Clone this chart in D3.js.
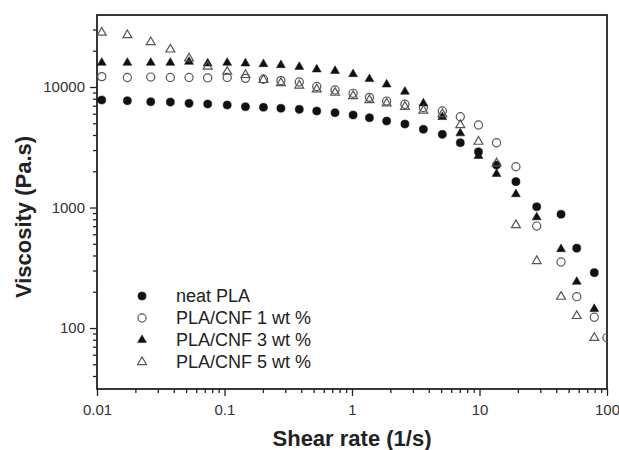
<!DOCTYPE html>
<html>
<head>
<meta charset="utf-8">
<script src="https://cdn.jsdelivr.net/npm/d3@7"></script>
<style>
  body { margin: 0; background: #fff; }
  text { font-family: "Liberation Sans", Arial, sans-serif; }
</style>
</head>
<body>
<div id="chart"></div>
<script>
/* viscosity vs shear rate, log-log */

// data
const shearRate = [0.0109, 0.0173, 0.0264, 0.0376, 0.0527, 0.0738, 0.105, 0.146, 0.202, 0.277,
  0.386, 0.529, 0.736, 1.02, 1.37, 1.87, 2.60, 3.63, 5.11, 7.07,
  9.82, 13.6, 19.3, 28.1, 43.6, 57.9, 79.5, 100];

const neatPLA = [7800, 7700, 7550, 7500, 7320, 7230, 7090, 6860, 6790, 6660,
  6530, 6320, 6120, 5860, 5560, 5220, 4930, 4460, 4050, 3450,
  2900, 2250, 1640, 1015, 880, 460, 288, null];
const cnf1 = [12200, 12000, 12100, 12000, 12000, 11900, 12000, 11800, 11600, 11300,
  11000, 10100, 9440, 8870, 8210, 7650, 7190, 6760, 6320, 5670,
  4840, 3450, 2180, 702, 353, 182, 123, 83];
const cnf3 = [15900, 15900, 15900, 15900, 16200, 15700, 15900, 15700, 15500, 15200,
  14700, 14000, 13600, 12800, 11650, 10500, 9140, 7320, 5640, 4130,
  2680, 1900, 1290, 830, 452, 242, 144, null];
const cnf5 = [28300, 27000, 23600, 20500, 17300, 14800, 13400, 12600, 11450, 10800,
  10300, 9570, 8970, 8420, 7800, 7320, 6860, 6380, 5970, 4840,
  3520, 2330, 716, 360, 182, 126, 83, null];

const seriesNames = ['neat PLA', 'PLA/CNF 1 wt %', 'PLA/CNF 3 wt %', 'PLA/CNF 5 wt %'];
const xTicks = [0.01, 0.1, 1, 10, 100];
const yTicks = [100, 1000, 10000];

const series = [
  { name: seriesNames[0], values: neatPLA, shape: d3.symbolCircle, filled: true },
  { name: seriesNames[1], values: cnf1, shape: d3.symbolCircle, filled: false },
  { name: seriesNames[2], values: cnf3, shape: d3.symbolTriangle, filled: true },
  { name: seriesNames[3], values: cnf5, shape: d3.symbolTriangle, filled: false }
];

const width = 619, height = 450;
const pLeft = 97, pRight = 607, pTop = 15, pBottom = 389;

const xScale = d3.scaleLog().domain([0.01, 100]).range([pLeft, pRight]);
const yScale = d3.scaleLog().domain([31.2, 39600]).range([pBottom, pTop]);

const svg = d3.select('#chart').append('svg')
  .attr('width', width)
  .attr('height', height);

svg.append('clipPath').attr('id', 'plot-clip')
  .append('rect')
  .attr('x', pLeft).attr('y', pTop)
  .attr('width', pRight - pLeft).attr('height', pBottom - pTop);

// minor tick values
const xMinor = [];
[0.01, 0.1, 1, 10].forEach(d => { for (let k = 2; k <= 9; k++) xMinor.push(d * k); });
const yMinor = [];
[10, 100, 1000, 10000].forEach(d => {
  for (let k = 2; k <= 9; k++) {
    const v = d * k;
    if (v > yScale.domain()[0] && v < yScale.domain()[1]) yMinor.push(v);
  }
});

function styleAxis(g) {
  g.select('.domain').remove();
  g.selectAll('line').attr('stroke', '#222').attr('stroke-width', 1.3);
  g.selectAll('text').attr('fill', '#333').style('font-size', '15px')
    .style('font-family', '"Liberation Sans", Arial, sans-serif');
}

// x axis
svg.append('g')
  .attr('transform', `translate(0,${pBottom})`)
  .call(d3.axisBottom(xScale).tickValues(xMinor).tickSize(4).tickFormat(''))
  .call(styleAxis);
svg.append('g')
  .attr('transform', `translate(0,${pBottom})`)
  .call(d3.axisBottom(xScale).tickValues(xTicks).tickSize(7).tickPadding(8)
    .tickFormat(d => d3.format('~g')(d)))
  .call(styleAxis);

// y axis
svg.append('g')
  .attr('transform', `translate(${pLeft},0)`)
  .call(d3.axisLeft(yScale).tickValues(yMinor).tickSize(4).tickFormat(''))
  .call(styleAxis);
svg.append('g')
  .attr('transform', `translate(${pLeft},0)`)
  .call(d3.axisLeft(yScale).tickValues(yTicks).tickSize(7).tickPadding(5)
    .tickFormat(d => d3.format('d')(d)))
  .call(styleAxis);

// frame
svg.append('rect')
  .attr('x', pLeft).attr('y', pTop)
  .attr('width', pRight - pLeft).attr('height', pBottom - pTop)
  .attr('fill', 'none')
  .attr('stroke', '#222')
  .attr('stroke-width', 1.8);

// markers
const symbolSize = s => s === d3.symbolCircle ? 52 : 34;
const plot = svg.append('g').attr('clip-path', 'url(#plot-clip)');

series.forEach(s => {
  const pts = shearRate.map((x, i) => ({ x: x, v: s.values[i] })).filter(d => d.v != null);
  plot.selectAll(null)
    .data(pts)
    .enter().append('path')
    .attr('d', d3.symbol().type(s.shape).size(symbolSize(s.shape)))
    .attr('transform', d => `translate(${xScale(d.x)},${yScale(d.v)})`)
    .attr('fill', s.filled ? '#111' : 'none')
    .attr('stroke', s.filled ? '#111' : '#555')
    .attr('stroke-width', s.filled ? 0.5 : 1.2);
});

// legend
const legend = svg.append('g').attr('transform', 'translate(142,296)');
series.forEach((s, i) => {
  const row = legend.append('g').attr('transform', `translate(0,${i * 22})`);
  row.append('path')
    .attr('d', d3.symbol().type(s.shape).size(symbolSize(s.shape)))
    .attr('fill', s.filled ? '#111' : 'none')
    .attr('stroke', s.filled ? '#111' : '#555')
    .attr('stroke-width', s.filled ? 0.5 : 1.2);
  row.append('text')
    .attr('x', 34)
    .attr('y', 6)
    .style('font-size', '18px')
    .attr('fill', '#222')
    .text(s.name);
});

// axis titles
svg.append('text')
  .attr('x', (pLeft + pRight) / 2)
  .attr('y', 446)
  .attr('text-anchor', 'middle')
  .style('font-size', '22px')
  .style('font-weight', 'bold')
  .attr('fill', '#222')
  .text('Shear rate (1/s)');

svg.append('text')
  .attr('transform', 'translate(31,217) rotate(-90)')
  .attr('text-anchor', 'middle')
  .style('font-size', '22px')
  .style('font-weight', 'bold')
  .attr('fill', '#222')
  .text('Viscosity (Pa.s)');
</script>
</body>
</html>
